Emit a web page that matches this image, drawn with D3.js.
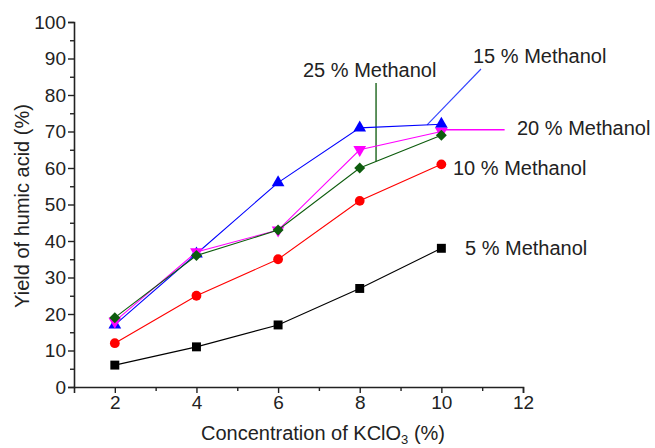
<!DOCTYPE html>
<html><head><meta charset="utf-8">
<script src="https://cdn.jsdelivr.net/npm/d3@7"></script>
<style>body{margin:0;background:#fff}svg{display:block}text{font-family:"Liberation Sans",Arial,sans-serif;fill:#222}</style>
</head><body><svg id="c" width="655" height="448"></svg>
<script>
const xValues = [2, 4, 6, 8, 10];
const yield5 = [6, 11, 17, 27, 38];
const yield10 = [12, 25, 35, 51, 61];
const yield15 = [17, 36.5, 56, 71, 72];
const yield20 = [18, 37, 43, 65, 70];
const yield25 = [19, 36, 43, 60, 69];
const seriesNames = ["5 % Methanol", "10 % Methanol", "15 % Methanol", "20 % Methanol", "25 % Methanol"];
const xTicks = [2, 4, 6, 8, 10, 12];
const yTicks = [0, 10, 20, 30, 40, 50, 60, 70, 80, 90, 100];

const svg = d3.select("#c");
const x = d3.scaleLinear().domain([1, 12]).range([74, 523]);
const y = d3.scaleLinear().domain([0, 100]).range([387, 22]);

// axes
const xAxis = d3.axisBottom(x).tickValues(xTicks).tickSize(6).tickPadding(3).tickFormat(d3.format("d"));
const gx = svg.append("g").attr("transform", `translate(0,${y(0)})`).call(xAxis);
gx.selectAll(".tick text").style("font-size", "19px").attr("fill", "#222");
svg.append("g").attr("transform", `translate(0,${y(0)})`)
  .call(d3.axisBottom(x).tickValues([3,5,7,9,11]).tickSize(4).tickFormat(""))
  .select(".domain").remove();
const yAxis = d3.axisLeft(y).tickValues(yTicks).tickSize(6).tickPadding(2);
const gy = svg.append("g").attr("transform", `translate(${x(1)},0)`).call(yAxis);
gy.selectAll(".tick text").style("font-size", "19px").attr("fill", "#222");
svg.append("g").attr("transform", `translate(${x(1)},0)`)
  .call(d3.axisLeft(y).tickValues(d3.range(5, 100, 10)).tickSize(4).tickFormat(""))
  .select(".domain").remove();
svg.selectAll(".domain").attr("stroke", "#222").attr("stroke-width", 1.6);
svg.selectAll(".tick line").attr("stroke", "#222").attr("stroke-width", 1.4);

// axis titles
const xt = svg.append("text").attr("x", 323).attr("y", 440).attr("text-anchor", "middle").style("font-size", "20px");
xt.append("tspan").text("Concentration of KClO");
xt.append("tspan").text("3").attr("dy", 4).style("font-size", "13px");
xt.append("tspan").text(" (%)").attr("dy", -4);
svg.append("text").attr("transform", "translate(29,206) rotate(-90)").attr("text-anchor", "middle")
  .style("font-size", "20px").text("Yield of humic acid (%)");

const series = [
  {vals: yield5, color: "#000000", shape: d3.symbolSquare, size: 80, rot: 0},
  {vals: yield10, color: "#ff0000", shape: d3.symbolCircle, size: 75, rot: 0},
  {vals: yield15, color: "#0000ff", shape: d3.symbolTriangle, size: 70, rot: 0},
  {vals: yield20, color: "#ff00ff", shape: d3.symbolTriangle, size: 70, rot: 180},
  {vals: yield25, color: "#0d5c0d", shape: d3.symbolSquare, size: 60, rot: 45}
];
const line = d3.line().x(d => x(d[0])).y(d => y(d[1]));

// annotation leader lines
svg.append("line").attr("x1", x(8.4)).attr("x2", x(8.4)).attr("y1", 83).attr("y2", y(61.8))
  .attr("stroke", "#2a6e2a").attr("stroke-width", 1.5);
svg.append("line").attr("x1", x(9.65)).attr("y1", y(71.8)).attr("x2", 481).attr("y2", 69)
  .attr("stroke", "#3344ff").attr("stroke-width", 1.1);
svg.append("line").attr("x1", x(10)).attr("y1", y(70.5)).attr("x2", x(11.55)).attr("y2", y(70.5))
  .attr("stroke", "#ff00ff").attr("stroke-width", 1.4);

series.forEach(s => {
  const pts = xValues.map((v, i) => [v, s.vals[i]]);
  svg.append("path").datum(pts).attr("d", line).attr("fill", "none")
    .attr("stroke", s.color).attr("stroke-width", 1.1);
  svg.selectAll(null).data(pts).enter().append("path")
    .attr("d", d3.symbol().type(s.shape).size(s.size))
    .attr("transform", d => `translate(${x(d[0])},${y(d[1])}) rotate(${s.rot})`)
    .attr("fill", s.color);
});

// labels
const lab = [
  {t: seriesNames[4], x: 303, y: 77},
  {t: seriesNames[2], x: 473, y: 63},
  {t: seriesNames[3], x: 517, y: 135},
  {t: seriesNames[1], x: 453, y: 175},
  {t: seriesNames[0], x: 465, y: 255}
];
lab.forEach(l => svg.append("text").attr("x", l.x).attr("y", l.y).style("font-size", "20px").text(l.t));
</script></body></html>
